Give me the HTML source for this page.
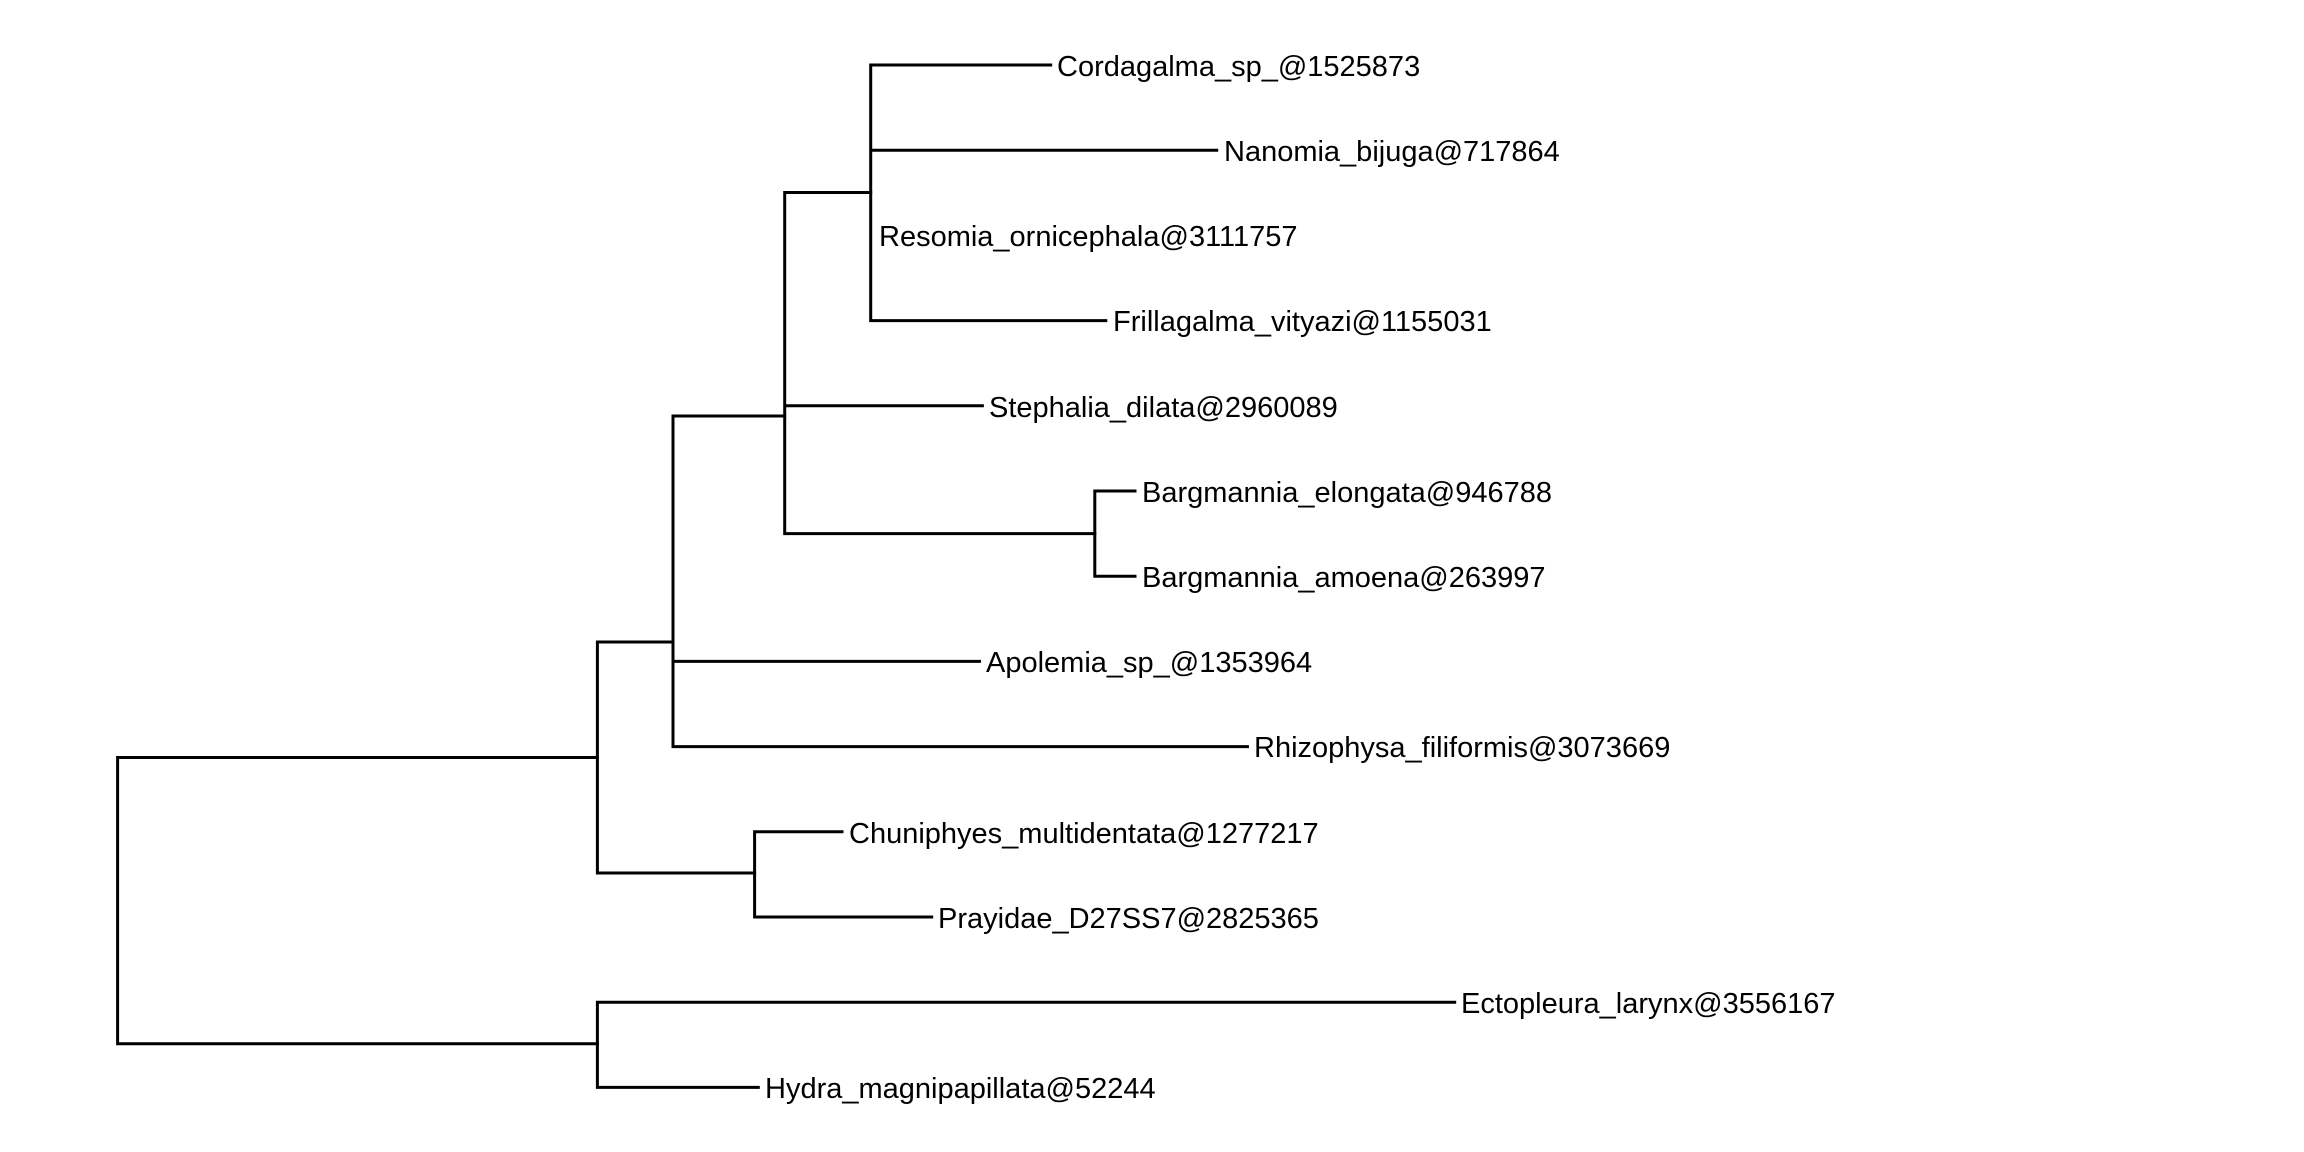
<!DOCTYPE html>
<html><head><meta charset="utf-8"><style>html,body{margin:0;padding:0;background:#fff}svg{display:block}</style></head>
<body>
<svg width="2304" height="1152" viewBox="0 0 2304 1152" xmlns="http://www.w3.org/2000/svg">
<rect width="2304" height="1152" fill="#fff"/>
<g stroke="#000" stroke-width="3" fill="none" stroke-linecap="square">
<path d="M117.6 757.5V1043.7M117.6 757.5H597.4M117.6 1043.7H597.4"/>
<path d="M597.4 642V873M597.4 642H673M597.4 873H754.6"/>
<path d="M597.4 1002.2V1087.4M597.4 1002.2H1454.7M597.4 1087.4H758.3"/>
<path d="M673 416V746.6M673 416H784.7M673 661.4H979.5M673 746.6H1247.5"/>
<path d="M754.6 831.8V917M754.6 831.8H842M754.6 917H931.7"/>
<path d="M784.7 192.5V533.6M784.7 192.5H870.7M784.7 405.8H982.4M784.7 533.6H1094.8"/>
<path d="M870.7 65V320.6M870.7 65H1050.7M870.7 150.2H1216.7M870.7 320.6H1105.8"/>
<path d="M1094.8 491V576.2M1094.8 491H1135M1094.8 576.2H1135"/>
</g>
<g font-family="Liberation Sans, Arial, sans-serif" font-size="29" fill="#000">
<text x="1057" y="76">Cordagalma_sp_@1525873</text>
<text x="1224" y="161">Nanomia_bijuga@717864</text>
<text x="879" y="246">Resomia_ornicephala@3111757</text>
<text x="1113" y="331">Frillagalma_vityazi@1155031</text>
<text x="989" y="417">Stephalia_dilata@2960089</text>
<text x="1142" y="502">Bargmannia_elongata@946788</text>
<text x="1142" y="587">Bargmannia_amoena@263997</text>
<text x="986" y="672">Apolemia_sp_@1353964</text>
<text x="1254" y="757">Rhizophysa_filiformis@3073669</text>
<text x="849" y="843">Chuniphyes_multidentata@1277217</text>
<text x="938" y="928">Prayidae_D27SS7@2825365</text>
<text x="1461" y="1013">Ectopleura_larynx@3556167</text>
<text x="765" y="1098">Hydra_magnipapillata@52244</text>
</g>
</svg>
</body></html>
